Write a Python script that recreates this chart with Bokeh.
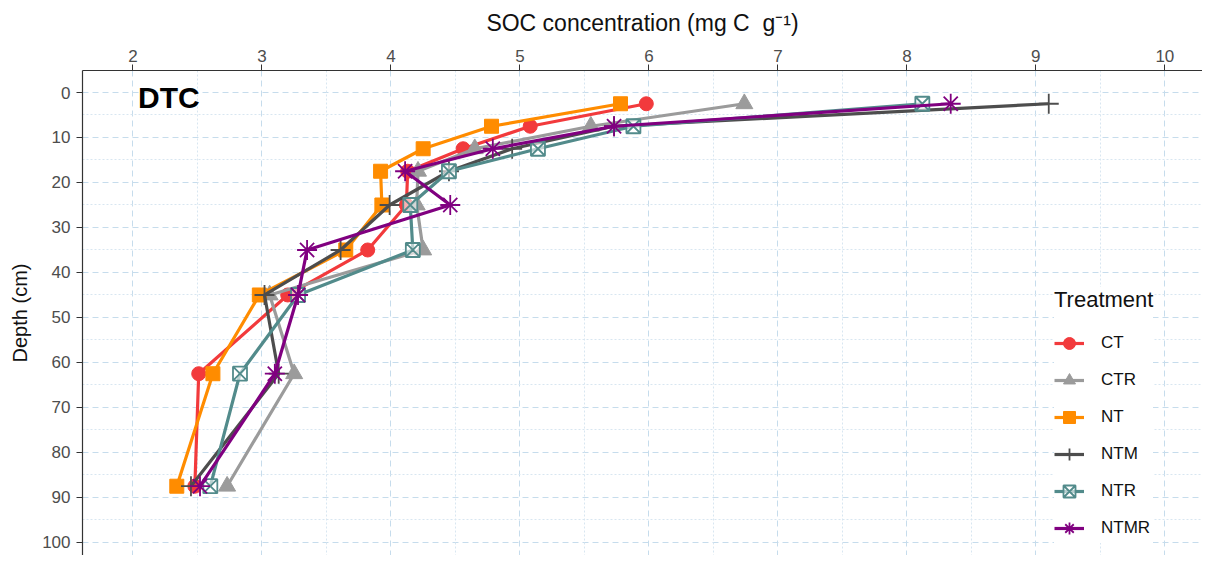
import numpy as np
from bokeh.plotting import figure
from bokeh.models import (Range1d, SingleIntervalTicker, FixedTicker, Grid,
                          Legend, LegendItem, Label)
from bokeh.embed import file_html
from bokeh.resources import INLINE

# ---- data ----
depth = [2.5, 7.5, 12.5, 17.5, 25, 35, 45, 62.5, 87.5]
treatments = ["CT", "CTR", "NT", "NTM", "NTR", "NTMR"]
soc_CT = [5.98, 5.08, 4.56, 4.13, 4.12, 3.82, 3.20, 2.51, 2.48]
soc_CTR = [6.74, 5.55, 4.65, 4.21, 4.20, 4.25, 3.06, 3.25, 2.73]
soc_NT = [5.78, 4.78, 4.25, 3.92, 3.93, 3.65, 2.98, 2.62, 2.34]
soc_NTM = [9.10, 5.73, 4.94, 4.45, 3.99, 3.61, 3.02, 3.13, 2.45]
soc_NTR = [8.12, 5.88, 5.14, 4.45, 4.15, 4.17, 3.28, 2.83, 2.60]
soc_NTMR = [8.34, 5.73, 4.79, 4.11, 4.46, 3.35, 3.28, 3.10, 2.52]
x_ticks_interval = 1
y_ticks_interval = 10

values = {"CT": soc_CT, "CTR": soc_CTR, "NT": soc_NT,
          "NTM": soc_NTM, "NTR": soc_NTR, "NTMR": soc_NTMR}
colors = {"CT": "#F23A3C", "CTR": "#9B9B9B", "NT": "#FF8C00",
          "NTM": "#4D4D4D", "NTR": "#528B8B", "NTMR": "#800080"}
markers = {"CT": "circle", "CTR": "triangle", "NT": "square",
           "NTM": "cross", "NTR": "square_x", "NTMR": "asterisk"}
msize = {"CT": 14, "CTR": 17, "NT": 14, "NTM": 20, "NTR": 14, "NTMR": 20}

FONT = "Liberation Sans"

p = figure(width=1202, height=555, output_backend="svg", toolbar_location=None,
           x_axis_location="above",
           x_range=Range1d(1.609, 10.292), y_range=Range1d(102.9, -4.89),
           min_border_left=82, min_border_top=70, min_border_right=0,
           min_border_bottom=0)
p.outline_line_color = None
p.background_fill_color = "white"

# axes
xa = p.xaxis[0]
ya = p.yaxis[0]
xa.ticker = SingleIntervalTicker(interval=x_ticks_interval, num_minor_ticks=0)
ya.ticker = SingleIntervalTicker(interval=y_ticks_interval, num_minor_ticks=0)
xa.axis_label = "SOC concentration (mg C\u00a0 g\u207b\u00b9)"
ya.axis_label = "Depth (cm)"
for ax in (xa, ya):
    ax.axis_line_color = "#333333"
    ax.axis_line_width = 1.2
    ax.major_tick_line_color = "#333333"
    ax.major_tick_in = 0
    ax.major_tick_out = 6
    ax.minor_tick_line_color = None
    ax.major_label_text_font = FONT
    ax.major_label_text_font_size = "17px"
    ax.major_label_text_color = "#4D4D4D"
    ax.axis_label_text_font = FONT
    ax.axis_label_text_font_style = "normal"
    ax.axis_label_text_color = "#111111"
xa.axis_label_text_font_size = "23px"
ya.axis_label_text_font_size = "20px"
xa.major_label_standoff = 3
xa.axis_label_standoff = 11
ya.major_label_standoff = 6
ya.axis_label_standoff = 8

# grids
grid_col = "#C6DCEC"
p.xgrid.grid_line_color = grid_col
p.xgrid.grid_line_dash = "6 4"
p.ygrid.grid_line_color = grid_col
p.ygrid.grid_line_dash = "6 4"
xminor = FixedTicker(ticks=list(np.arange(1.5, 11.0, x_ticks_interval)))
yminor = FixedTicker(ticks=list(np.arange(-5, 110, y_ticks_interval)))
p.add_layout(Grid(dimension=0, ticker=xminor, grid_line_color="#D8E6F1",
                  grid_line_dash="2 2", grid_line_width=1))
p.add_layout(Grid(dimension=1, ticker=yminor, grid_line_color="#D8E6F1",
                  grid_line_dash="2 2", grid_line_width=1))

items = []
for t in treatments:
    c = colors[t]
    lr = p.line(values[t], depth, line_color=c, line_width=3.2)
    if markers[t] in ("cross", "asterisk"):
        sr = p.scatter(values[t], depth, marker=markers[t], size=msize[t],
                       line_color=c, line_width=1.8)
    elif markers[t] == "square_x":
        sr = p.scatter(values[t], depth, marker=markers[t], size=msize[t],
                       line_color=c, fill_color="white", fill_alpha=0.6,
                       line_width=1.8)
    else:
        sr = p.scatter(values[t], depth, marker=markers[t], size=msize[t],
                       line_color=c, fill_color=c, line_width=1)
    items.append(LegendItem(label=t, renderers=[lr, sr]))

legend = Legend(items=items, location=(972, 12), title="Treatment",
                title_text_font=FONT, title_text_font_size="22px",
                title_text_font_style="normal", title_text_color="#111111",
                title_standoff=15,
                label_text_font=FONT, label_text_font_size="17px",
                label_text_color="#111111", label_standoff=17,
                glyph_width=30, glyph_height=30, label_height=30,
                spacing=7, padding=10, margin=0,
                background_fill_color="white", background_fill_alpha=1,
                border_line_color=None)
p.add_layout(legend)

p.add_layout(Label(x=2.04, y=1.2, text="DTC", text_font=FONT,
                   text_font_size="30px", text_font_style="bold",
                   text_color="#000000", text_baseline="middle",
                   text_align="left"))

open("out.html", "w").write(file_html(p, INLINE))
